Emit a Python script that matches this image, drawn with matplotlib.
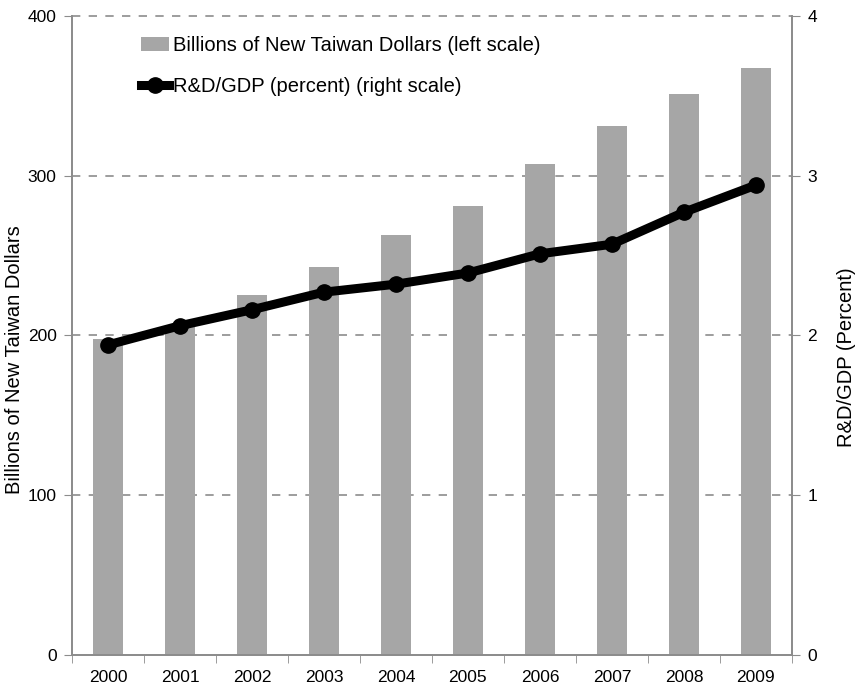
import matplotlib.pyplot as plt
from matplotlib.lines import Line2D
from matplotlib.patches import Patch

plt.rcParams["font.family"] = ["Liberation Sans", "DejaVu Sans"]

years = ["2000", "2001", "2002", "2003", "2004", "2005", "2006", "2007", "2008", "2009"]
spending = [198, 206, 225, 243, 263, 281, 307, 331, 351, 367]
rd_gdp = [1.94, 2.06, 2.16, 2.27, 2.32, 2.39, 2.51, 2.57, 2.77, 2.94]

BAR = "#a6a6a6"
AXIS = "#8c8c8c"

fig = plt.figure(figsize=(8.57, 6.85), dpi=100)
ax = fig.add_axes([0.084, 0.044, 0.84, 0.933])
ax2 = ax.twinx()

x = range(len(years))
ax.bar(x, spending, width=0.42, color=BAR, zorder=2)
ax.set_xlim(-0.5, len(years) - 0.5)
ax.set_ylim(0, 400)
ax.set_yticks([0, 100, 200, 300, 400])
for v in [100, 200, 300, 400]:
    ax.axhline(v, color=AXIS, lw=1.2, ls=(0, (5, 5)), zorder=1, clip_on=False)

ax2.plot(x, rd_gdp, color="black", lw=6.5, marker="o", ms=11, zorder=3)
ax2.set_ylim(0, 4)
ax2.set_yticks([0, 1, 2, 3, 4])

ax.set_xticks(list(x))
ax.set_xticklabels(years)
ax.set_xticks([i - 0.5 for i in range(len(years) + 1)], minor=True)
ax.tick_params(axis="x", which="major", length=0, pad=11, labelsize=12.5)
ax.tick_params(axis="x", which="minor", length=6, color=AXIS, direction="out")
ax.tick_params(axis="y", length=6, color=AXIS, labelsize=12.5, pad=5)
ax2.tick_params(axis="y", length=6, color=AXIS, labelsize=12.5, pad=5)

for a in (ax, ax2):
    a.spines["top"].set_visible(False)
    for s in ("left", "right", "bottom"):
        a.spines[s].set_color(AXIS)
        a.spines[s].set_linewidth(1.3)

# axis titles placed in figure coordinates
fig.text(15 / 857, 1 - 360 / 685, "Billions of New Taiwan Dollars", rotation=90,
         ha="center", va="center", fontsize=14.5)
fig.text(846 / 857, 1 - 357 / 685, "R&D/GDP (Percent)", rotation=90,
         ha="center", va="center", fontsize=14.5)

handles = [
    Patch(facecolor=BAR, edgecolor="none"),
    Line2D([0], [0], color="black", lw=6.5, marker="o", ms=11),
]
labels = ["Billions of New Taiwan Dollars (left scale)", "R&D/GDP (percent) (right scale)"]
ax2.legend(handles, labels, loc="upper left", bbox_to_anchor=(0.07, 0.997),
           frameon=False, fontsize=14.5, handlelength=1.4, handletextpad=0.2,
           labelspacing=1.12)

fig.savefig("out.png", dpi=100)
